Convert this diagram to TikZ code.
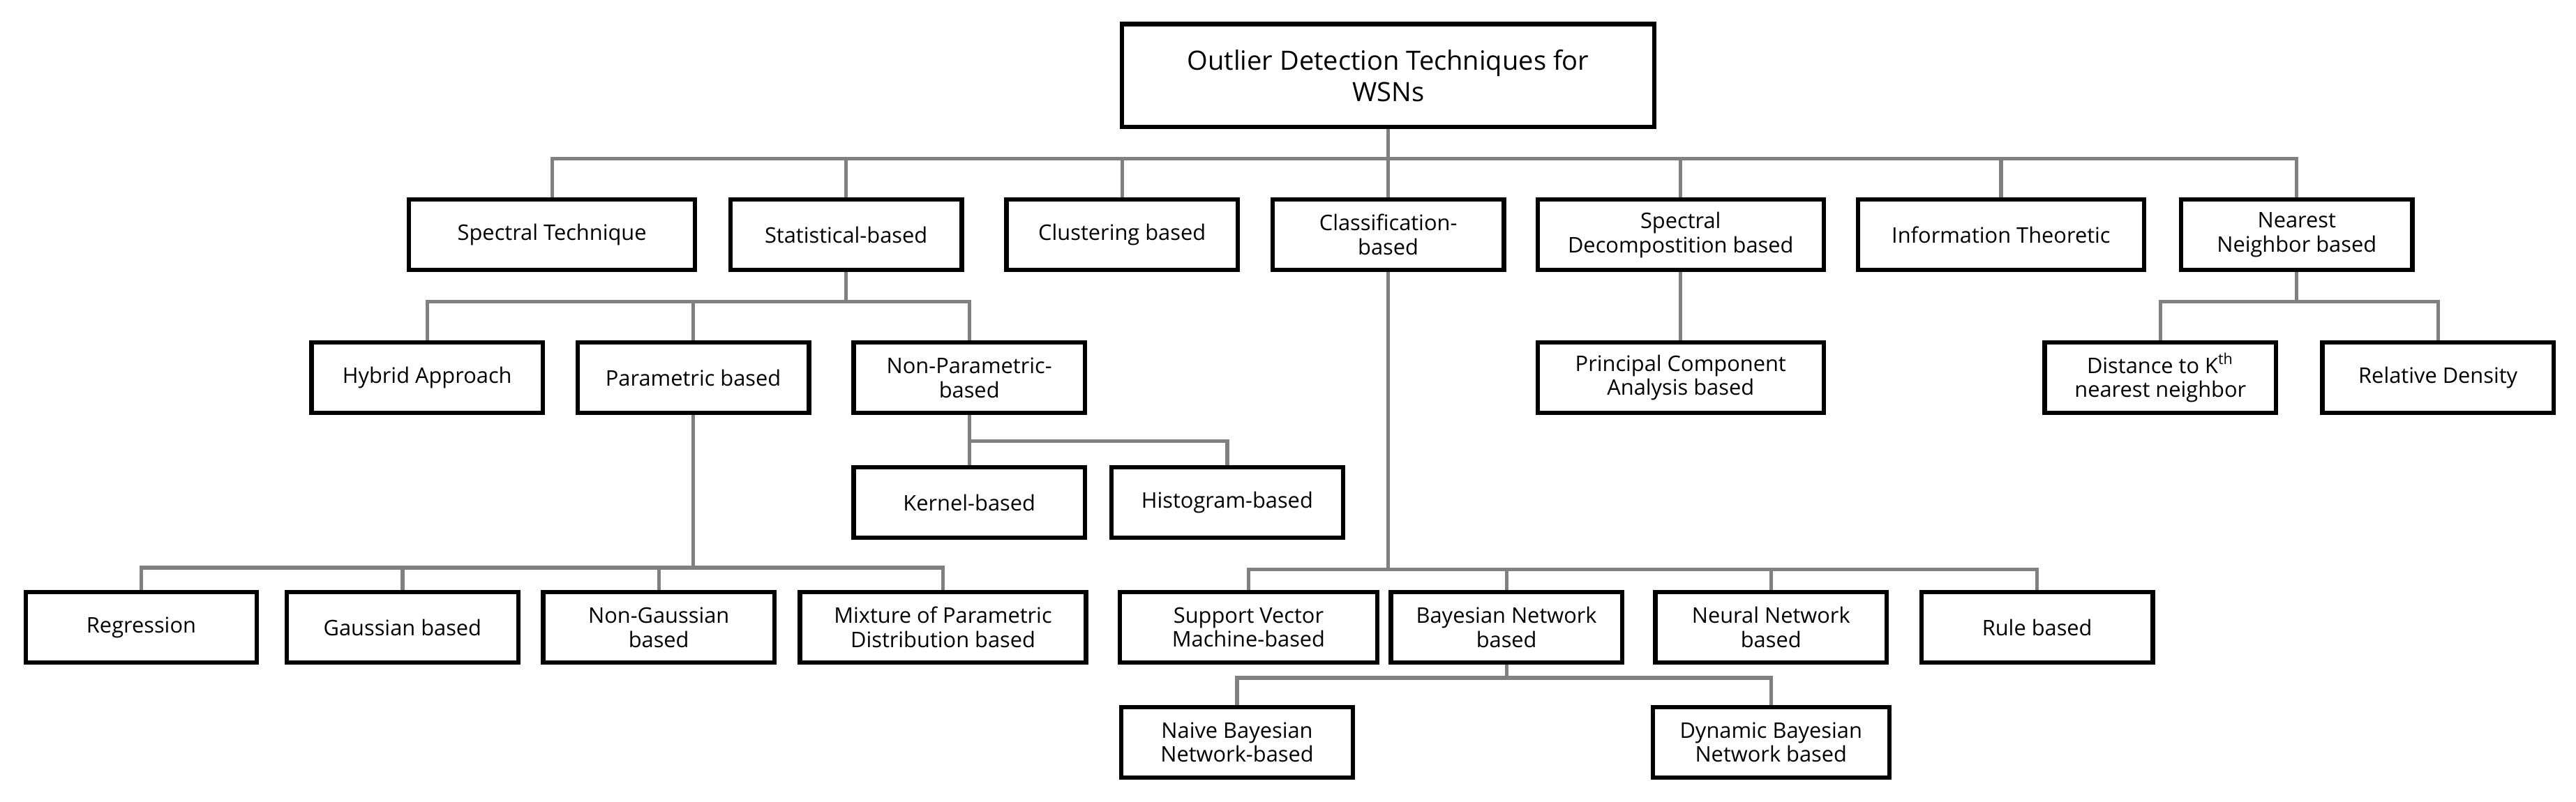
\documentclass[tikz,border=0pt]{standalone}
\usepackage{fontspec}
\setmainfont{Open Sans}
\usepackage{tikz}
\usetikzlibrary{calc}

\begin{document}
\begin{tikzpicture}[x=0.025cm,y=-0.025cm,
  box/.style={draw=black,line width=1.9pt,minimum width=3.52cm,minimum height=1.07cm,
    align=center,inner sep=1pt,font=\fontsize{9.3}{10.5}\selectfont},
  wide/.style={box,minimum width=4.35cm},
  link/.style={draw=black!50,line width=1.6pt}]
\useasboundingbox (0,0) rectangle (1568,488);
% root
\node [box,minimum width=8.1cm,minimum height=1.57cm,font=\fontsize{11.5}{13.5}\selectfont] (root) at (845,46) {Outlier Detection Techniques for\\WSNs};
% first level
\node [wide] (spec) at (336,143) {Spectral Technique};
\node [box] (stat) at (515,143) {Statistical-based};
\node [box] (clus) at (683,143) {Clustering based};
\node [box] (clas) at (845,143) {Classification-\\based};
\node [wide] (sdec) at (1023,143) {Spectral\\Decompostition based};
\node [wide] (info) at (1218,143) {Information Theoretic};
\node [box] (near) at (1398,143) {Nearest\\Neighbor based};
% statistical
\node [box] (hyb) at (260,230) {Hybrid Approach};
\node [box] (par) at (422,230) {Parametric based};
\node [box] (npar) at (590,230) {Non-Parametric-\\based};
\node [box] (ker) at (590,306) {Kernel-based};
\node [box] (hist) at (747,306) {Histogram-based};
\node [box] (reg) at (86,382) {Regression};
\node [box] (gau) at (245,382) {Gaussian based};
\node [box] (ngau) at (401,382) {Non-Gaussian\\based};
\node [wide] (mix) at (574,382) {Mixture of Parametric\\Distribution based};
% classification
\node [wide,minimum width=3.92cm] (svm) at (760,382) {Support Vector\\Machine-based};
\node [box] (bay) at (917,382) {Bayesian Network\\based};
\node [box] (neu) at (1078,382) {Neural Network\\based};
\node [box] (rule) at (1240,382) {Rule based};
\node [box] (nbay) at (753,452) {Naive Bayesian\\Network-based};
\node [box,minimum width=3.6cm] (dbay) at (1078,452) {Dynamic Bayesian\\Network based};
% spectral decomposition, nearest neighbor
\node [wide] (pca) at (1023,230) {Principal Component\\Analysis based};
\node [box] (dist) at (1315,230) {Distance to K\textsuperscript{th}\\nearest neighbor};
\node [box] (rel) at (1484,230) {Relative Density};
% links
\foreach \c in {spec,stat,clus,clas,sdec,info,near}
  \draw [link] (root.south) -- ++(0,18) -| (\c.north);
\foreach \c in {hyb,par,npar}
  \draw [link] (stat.south) -- ++(0,18) -| (\c.north);
\foreach \c in {ker,hist}
  \draw [link] (npar.south) -- ++(0,16) -| (\c.north);
\foreach \c in {reg,gau,ngau,mix}
  \draw [link] (par.south) -- ++(0,93) -| (\c.north);
\foreach \c in {svm,bay,neu,rule}
  \draw [link] (clas.south) -- ++(0,181) -| (\c.north);
\foreach \c in {nbay,dbay}
  \draw [link] (bay.south) -- ++(0,8) -| (\c.north);
\draw [link] (sdec) -- (pca);
\foreach \c in {dist,rel}
  \draw [link] (near.south) -- ++(0,18) -| (\c.north);
\end{tikzpicture}
\end{document}
